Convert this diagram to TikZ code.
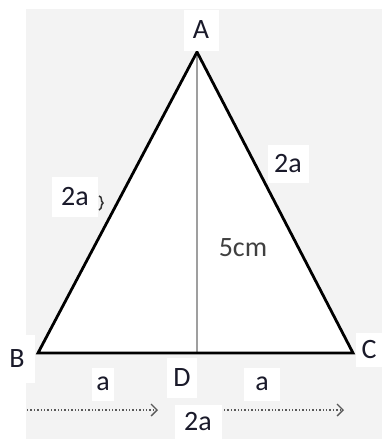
\documentclass[tikz,border=0pt]{standalone}
\usepackage{fontspec}
\setmainfont{Carlito}
\usetikzlibrary{arrows.meta}
\definecolor{bg}{HTML}{F3F3F3}
\definecolor{txt}{HTML}{1A1A2A}
\begin{document}
\begin{tikzpicture}[x=1pt,y=-1pt,
  lbl/.style={fill=white,inner sep=0pt,text=txt,font=\fontsize{28}{30}\selectfont},
  side/.style={line width=2.8pt,black,line join=miter},
  alt/.style={line width=2.5pt,gray!75},
  dim/.style={dotted,line width=1.4pt,gray!70!black,-{Straight Barb[length=6pt,width=12pt,line width=1.3pt]}}]
\useasboundingbox (0,0) rectangle (382,439);
\fill[bg] (26,9) rectangle (382,439);
\coordinate (A) at (197,52);
\coordinate (B) at (38,353);
\coordinate (C) at (353,353);
\coordinate (D) at (197,353);
\fill[white] (A) -- (B) -- (C) -- cycle;
\draw[alt] (A) -- (D);
\draw[side] (A) -- (B) -- (C) -- cycle;
\node[lbl,minimum width=35pt,minimum height=41pt] (lA) at (201,30) {A};
\node[lbl,minimum width=35pt,minimum height=48pt] (lB) at (17,359) {B};
\node[lbl,minimum width=27pt,minimum height=34pt] (lC) at (369,350) {C};
\node[lbl,minimum width=30pt,minimum height=40pt] (lD) at (182,378) {D};
\node[lbl,minimum width=46pt,minimum height=40pt] (lAB) at (75,197) {2a};
\node[lbl,minimum width=41pt,minimum height=38pt] (lAC) at (288,164) {2a};
\node[inner sep=0pt,text=black!75,font=\fontsize{28}{30}\selectfont] (h) at (243,248) {5cm};
\node[lbl,minimum width=22pt,minimum height=33pt] (la1) at (103,384) {a};
\node[lbl,minimum width=36pt,minimum height=33pt] (la2) at (262,384) {a};
\node[lbl,minimum width=47pt,minimum height=34pt] (l2a) at (198,422) {2a};
\coordinate (p1) at (27,410);
\coordinate (p2) at (158,410);
\coordinate (p3) at (224,410);
\coordinate (p4) at (344,410);
\draw[dim] (p1) -- (p2);
\draw[dim] (p3) -- (p4);
\draw[line width=1.5pt,black!80] (99,196) .. controls (103,197) and (100,201) .. (103,203) .. controls (100,205) and (103,208) .. (99,210);
\end{tikzpicture}
\end{document}
